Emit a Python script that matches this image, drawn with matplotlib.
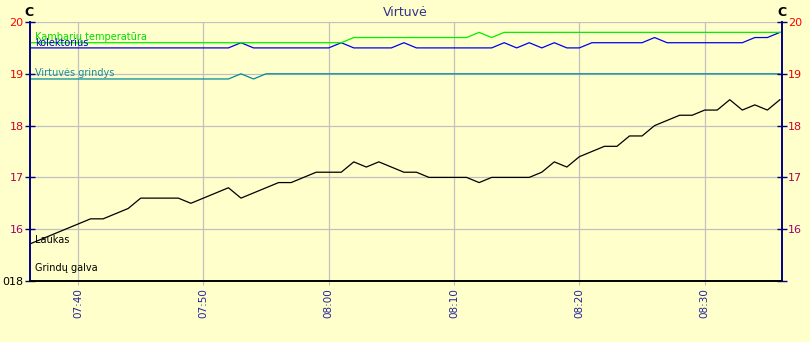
import numpy as np
import matplotlib
matplotlib.use("Agg")
import matplotlib.pyplot as plt
from matplotlib.ticker import FixedLocator, FuncFormatter

# Sampling times: one reading per minute, 07:36 .. 08:36 (minutes since midnight)
minutes = np.arange(7 * 60 + 36, 8 * 60 + 37)

kambariu_temperatura = [
    19.6, 19.6, 19.6, 19.6, 19.6, 19.6, 19.6, 19.6, 19.6, 19.6, 19.6, 19.6,
    19.6, 19.6, 19.6, 19.6, 19.6, 19.6, 19.6, 19.6, 19.6, 19.6, 19.6, 19.6,
    19.6, 19.6, 19.7, 19.7, 19.7, 19.7, 19.7, 19.7, 19.7, 19.7, 19.7, 19.7,
    19.8, 19.7, 19.8, 19.8, 19.8, 19.8, 19.8, 19.8, 19.8, 19.8, 19.8, 19.8,
    19.8, 19.8, 19.8, 19.8, 19.8, 19.8, 19.8, 19.8, 19.8, 19.8, 19.8, 19.8,
    19.8,
]
kolektorius = [
    19.5, 19.5, 19.5, 19.5, 19.5, 19.5, 19.5, 19.5, 19.5, 19.5, 19.5, 19.5,
    19.5, 19.5, 19.5, 19.5, 19.5, 19.6, 19.5, 19.5, 19.5, 19.5, 19.5, 19.5,
    19.5, 19.6, 19.5, 19.5, 19.5, 19.5, 19.6, 19.5, 19.5, 19.5, 19.5, 19.5,
    19.5, 19.5, 19.6, 19.5, 19.6, 19.5, 19.6, 19.5, 19.5, 19.6, 19.6, 19.6,
    19.6, 19.6, 19.7, 19.6, 19.6, 19.6, 19.6, 19.6, 19.6, 19.6, 19.7, 19.7,
    19.8,
]
virtuves_grindys = [
    18.9, 18.9, 18.9, 18.9, 18.9, 18.9, 18.9, 18.9, 18.9, 18.9, 18.9, 18.9,
    18.9, 18.9, 18.9, 18.9, 18.9, 19.0, 18.9, 19.0, 19.0, 19.0, 19.0, 19.0,
    19.0, 19.0, 19.0, 19.0, 19.0, 19.0, 19.0, 19.0, 19.0, 19.0, 19.0, 19.0,
    19.0, 19.0, 19.0, 19.0, 19.0, 19.0, 19.0, 19.0, 19.0, 19.0, 19.0, 19.0,
    19.0, 19.0, 19.0, 19.0, 19.0, 19.0, 19.0, 19.0, 19.0, 19.0, 19.0, 19.0,
    19.0,
]
laukas = [
    15.7, 15.8, 15.9, 16.0, 16.1, 16.2, 16.2, 16.3, 16.4, 16.6, 16.6, 16.6,
    16.6, 16.5, 16.6, 16.7, 16.8, 16.6, 16.7, 16.8, 16.9, 16.9, 17.0, 17.1,
    17.1, 17.1, 17.3, 17.2, 17.3, 17.2, 17.1, 17.1, 17.0, 17.0, 17.0, 17.0,
    16.9, 17.0, 17.0, 17.0, 17.0, 17.1, 17.3, 17.2, 17.4, 17.5, 17.6, 17.6,
    17.8, 17.8, 18.0, 18.1, 18.2, 18.2, 18.3, 18.3, 18.5, 18.3, 18.4, 18.3,
    18.5,
]

y_ticks = [15, 16, 17, 18, 19, 20]
left_labels = ["018", "16", "17", "18", "19", "20"]
right_labels = ["", "16", "17", "18", "19", "20"]
label_colors = ["#000000", "#A0006A", "#B8004A", "#D0002A", "#EE0000", "#FF0000"]
x_ticks = [7 * 60 + 40, 7 * 60 + 50, 8 * 60, 8 * 60 + 10, 8 * 60 + 20, 8 * 60 + 30]

BG = "#FFFFCC"
AXIS_BLUE = "#000080"
GRID = "#C0C0C0"

fig = plt.figure(figsize=(8.1, 3.42), dpi=100, facecolor=BG)
ax = fig.add_axes([30 / 810, 61 / 342, 752 / 810, 259 / 342], facecolor=BG)

x0 = 7 * 60 + 36 + 10 / 60
ax.set_xlim(x0, x0 + 60)
ax.set_ylim(15, 20)

ax.plot(minutes, laukas, color="#000000", lw=0.9, zorder=3)
ax.plot(minutes, virtuves_grindys, color="#008A9A", lw=0.9, zorder=3)
ax.plot(minutes, kolektorius, color="#0000EE", lw=0.9, zorder=3)
ax.plot(minutes, kambariu_temperatura, color="#00EE00", lw=0.9, zorder=4)

ax.grid(True, color=GRID, lw=0.9, zorder=1)
ax.set_axisbelow(True)

ax.xaxis.set_major_locator(FixedLocator(x_ticks))
ax.xaxis.set_major_formatter(FuncFormatter(lambda v, p: f"{int(v) // 60:02d}:{int(v) % 60:02d}"))
ax.tick_params(axis="x", length=3, color=GRID, labelcolor="#22229A",
               labelsize=7.5, labelrotation=90, pad=2)

ax.set_yticks(y_ticks)
ax.set_yticklabels(left_labels)
ax.tick_params(axis="y", direction="inout", length=7, width=1, color=AXIS_BLUE,
               labelsize=8, pad=1)
for lab, c in zip(ax.get_yticklabels(), label_colors):
    lab.set_color(c)

ax2 = ax.twinx()
ax2.set_ylim(15, 20)
ax2.set_yticks(y_ticks)
ax2.set_yticklabels(right_labels)
ax2.tick_params(axis="y", direction="inout", length=7, width=1, color=AXIS_BLUE,
                labelsize=8, pad=1)
for lab, c in zip(ax2.get_yticklabels(), label_colors):
    lab.set_color(c)

for a in (ax, ax2):
    a.spines["top"].set_visible(False)
    a.spines["left"].set_color(AXIS_BLUE)
    a.spines["right"].set_color(AXIS_BLUE)
    a.spines["left"].set_linewidth(1.2)
    a.spines["right"].set_linewidth(1.2)
    a.spines["bottom"].set_color("#000000")
    a.spines["bottom"].set_linewidth(1.2)

# Series names written inside the plot area
names = [
    ("Kambarių temperatūra", 0.942, "#00DD00"),
    ("kolektorius", 0.920, "#0000CC"),
    ("Virtuvės grindys", 0.803, "#1A8AA0"),
    ("Laukas", 0.158, "#000000"),
    ("Grindų galva", 0.050, "#000000"),
]
for txt, yy, c in names:
    ax.text(0.007, yy, txt, transform=ax.transAxes, color=c, fontsize=7,
            va="center", ha="left", zorder=5)

fig.text(405 / 810, 1 - 12 / 342, "Virtuvė", color="#333388", fontsize=9,
         ha="center", va="center")
fig.text(29 / 810, 1 - 12 / 342, "C", color="#000000", fontsize=9,
         fontweight="bold", ha="center", va="center")
fig.text(782 / 810, 1 - 12 / 342, "C", color="#000000", fontsize=9,
         fontweight="bold", ha="center", va="center")

fig.savefig("out.png", dpi=100, facecolor=BG)
